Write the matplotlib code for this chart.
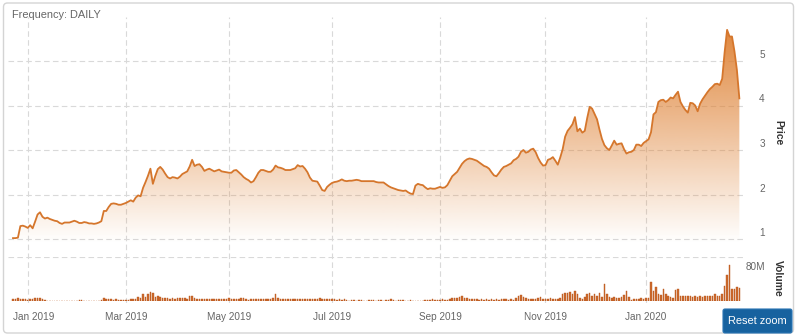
import numpy as np
import pandas as pd
import matplotlib
matplotlib.use("Agg")
import matplotlib.pyplot as plt
import matplotlib.transforms as mtransforms
from matplotlib.patches import FancyBboxPatch

# ---------------- data ----------------
holidays = ["2018-12-25", "2019-01-01", "2019-01-21", "2019-02-18", "2019-04-19",
            "2019-05-27", "2019-07-04", "2019-09-02", "2019-11-28", "2019-12-25",
            "2020-01-01", "2020-01-20", "2020-02-17"]
dates = pd.bdate_range("2018-12-21", "2020-02-27", freq="C", holidays=holidays)

price = [
    1.02, 1.02, 1.03, 1.29, 1.30, 1.28, 1.25, 1.31, 1.24, 1.39,
    1.55, 1.60, 1.50, 1.46, 1.48, 1.45, 1.43, 1.41, 1.40, 1.36,
    1.34, 1.37, 1.37, 1.37, 1.39, 1.41, 1.39, 1.36, 1.36, 1.38,
    1.37, 1.35, 1.35, 1.34, 1.35, 1.37, 1.40, 1.63, 1.63, 1.72,
    1.79, 1.80, 1.79, 1.77, 1.77, 1.79, 1.81, 1.84, 1.87, 1.84,
    1.93, 1.98, 1.96, 2.15, 2.28, 2.42, 2.58, 2.24, 2.42, 2.57,
    2.62, 2.56, 2.47, 2.39, 2.36, 2.39, 2.38, 2.36, 2.40, 2.46,
    2.49, 2.52, 2.63, 2.78, 2.64, 2.67, 2.68, 2.62, 2.53, 2.56,
    2.58, 2.55, 2.52, 2.54, 2.56, 2.52, 2.51, 2.50, 2.49, 2.49,
    2.54, 2.55, 2.50, 2.45, 2.39, 2.35, 2.32, 2.27, 2.30, 2.39,
    2.49, 2.55, 2.55, 2.53, 2.51, 2.51, 2.56, 2.65, 2.61, 2.60,
    2.58, 2.55, 2.55, 2.55, 2.57, 2.59, 2.66, 2.63, 2.64, 2.58,
    2.50, 2.38, 2.31, 2.30, 2.29, 2.20, 2.10, 2.08, 2.17, 2.22,
    2.26, 2.28, 2.29, 2.31, 2.34, 2.31, 2.30, 2.31, 2.31, 2.32,
    2.33, 2.32, 2.30, 2.30, 2.30, 2.30, 2.30, 2.30, 2.28, 2.27,
    2.27, 2.27, 2.23, 2.19, 2.16, 2.14, 2.12, 2.10, 2.09, 2.08,
    2.09, 2.05, 2.02, 2.01, 2.20, 2.24, 2.22, 2.21, 2.16, 2.12,
    2.14, 2.13, 2.13, 2.15, 2.17, 2.15, 2.16, 2.21, 2.31, 2.41,
    2.46, 2.51, 2.60, 2.69, 2.75, 2.79, 2.81, 2.80, 2.78, 2.76,
    2.72, 2.68, 2.64, 2.62, 2.58, 2.50, 2.43, 2.41, 2.48, 2.56,
    2.62, 2.64, 2.67, 2.70, 2.77, 2.80, 2.85, 2.96, 3.00, 2.94,
    2.96, 3.01, 3.03, 2.95, 2.82, 2.72, 2.65, 2.66, 2.78, 2.80,
    2.84, 2.76, 2.67, 2.83, 3.02, 3.30, 3.43, 3.50, 3.58, 3.74,
    3.42, 3.48, 3.39, 3.43, 3.72, 3.97, 3.93, 3.81, 3.69, 3.46,
    3.25, 3.11, 3.04, 3.00, 3.10, 3.21, 3.12, 3.14, 3.15, 3.02,
    2.92, 2.95, 2.96, 3.00, 3.12, 3.12, 3.09, 3.16, 3.20, 3.24,
    3.40, 3.80, 3.85, 4.08, 4.12, 4.13, 4.08, 4.12, 4.18, 4.16,
    4.24, 4.31, 4.08, 3.98, 3.90, 3.84, 4.06, 4.05, 4.00, 3.87,
    4.04, 4.14, 4.22, 4.30, 4.37, 4.42, 4.48, 4.49, 4.46, 4.60,
    5.20, 5.70, 5.55, 5.55, 5.22, 4.80, 4.16,
]

volume_m = [
    3, 4, 5, 3, 4, 3, 2, 3, 4, 5,
    6, 5, 3, 2, 0.5, 0.3, 0.5, 0.3, 0.3, 0.5,
    0.3, 0.3, 0.3, 0.5, 0.3, 0.3, 0.3, 1.5, 1.2, 0.3,
    0.3, 0.5, 0.3, 0.3, 0.3, 0.5, 2, 5, 4, 3,
    3, 2, 3, 2, 1, 1, 1, 2, 3, 4,
    4, 7, 6, 12, 8, 12, 16, 14, 8, 9,
    7, 5, 6, 5, 4, 5, 4, 6, 5, 6,
    5, 4, 9, 10, 6, 4, 4, 3, 3, 4,
    3, 3, 4, 3, 3, 4, 3, 4, 5, 3,
    3, 4, 3, 5, 6, 3, 2, 4, 4, 3,
    4, 3, 4, 3, 3, 4, 6, 12, 5, 3,
    4, 3, 3, 4, 3, 4, 3, 3, 4, 3,
    3, 3, 4, 3, 4, 5, 4, 3, 3, 4,
    3, 3, 2, 3, 2, 3, 1, 0.3, 1.5, 1,
    0.3, 2, 1, 0.3, 0.3, 1, 2, 1, 0.3, 1.5,
    1, 0.3, 1, 2, 3, 1, 0.3, 1, 2, 1,
    0.3, 0.3, 1.5, 0.3, 0.3, 0.5, 0.3, 0.3, 1, 2,
    2, 3, 2, 1, 2, 3, 2, 2, 4, 5,
    6, 5, 7, 9, 6, 5, 4, 3, 4, 3,
    2, 3, 2, 3, 2, 3, 2, 3, 2, 3,
    4, 3, 2, 4, 2, 5, 9, 11, 8, 6,
    4, 3, 4, 3, 5, 8, 4, 3, 4, 5,
    3, 4, 3, 6, 13, 15, 14, 16, 13, 18,
    12, 5, 3, 7, 13, 14, 10, 12, 9, 14,
    8, 31, 12, 8, 6, 7, 5, 5, 7, 11,
    18, 8, 2, 3, 3, 4, 5, 4, 6, 5,
    35, 18, 26, 13, 11, 21, 13, 10, 8, 5,
    20, 22, 10, 9, 9, 10, 9, 8, 10, 8,
    9, 8, 10, 9, 9, 10, 12, 10, 9, 12,
    28, 48, 65, 21, 22, 26, 23,
]

price_ticks = [1, 2, 3, 4, 5]
vol_tick = 80
tick_months = ["2019-01-01", "2019-03-01", "2019-05-01", "2019-07-01",
               "2019-09-01", "2019-11-01", "2020-01-01"]
tick_labels = ["Jan 2019", "Mar 2019", "May 2019", "Jul 2019",
               "Sep 2019", "Nov 2019", "Jan 2020"]

assert len(dates) == len(price) == len(volume_m), (len(dates), len(price), len(volume_m))

# ---------------- layout helpers ----------------
W, H = 800, 336
fig = plt.figure(figsize=(W / 100, H / 100), dpi=100)
fig.patch.set_facecolor("white")
FONT = "Liberation Sans"
plt.rcParams["font.family"] = [FONT, "DejaVu Sans"]


def fx(px):
    return px / W


def fy(py):
    return 1 - py / H


# outer rounded border (pixel coords)
border = FancyBboxPatch((3.5, H - 333), 790, 330, boxstyle="round,pad=0,rounding_size=4",
                        transform=mtransforms.IdentityTransform(), facecolor="white",
                        edgecolor="#d4d4d4", linewidth=1.0, zorder=-5)
fig.patches.append(border)

x = np.arange(len(price))
xl = (-2.04, 298.3)
L, R = 8, 745
tick_idx = [int(dates.searchsorted(pd.Timestamp(m))) for m in tick_months]

grid_kw = dict(color="#d9d9d9", linewidth=0.8, linestyle=(0, (5, 3)))

# background axes for vertical grid lines spanning both panes
ax_bg = fig.add_axes([fx(L), fy(303), fx(R) - fx(L), fy(17) - fy(303)], zorder=1)
ax_bg.set_xlim(*xl)
ax_bg.set_ylim(0, 1)
ax_bg.axis("off")
for t in tick_idx:
    ax_bg.axvline(t, **grid_kw)

# price pane
ybot, ytop = 1 + (239 - 243) / 44.5, 1 + (239 - 17) / 44.5
ax = fig.add_axes([fx(L), fy(243), fx(R) - fx(L), fy(17) - fy(243)], zorder=2)
ax.patch.set_alpha(0)
for s in ax.spines.values():
    s.set_visible(False)
ax.set_xlim(*xl)
ax.set_ylim(ybot, ytop)
ax.set_yticks(price_ticks)
ax.set_xticks([])
ax.tick_params(axis="y", length=0, labelleft=False)
ax.grid(axis="y", **grid_kw)
ax.set_axisbelow(True)

poly = ax.fill_between(x, price, ybot, facecolor="none", edgecolor="none")
n = 256
grad = np.zeros((n, 1, 4))
grad[:, 0, 0] = 222 / 255
grad[:, 0, 1] = 128 / 255
grad[:, 0, 2] = 50 / 255
grad[:, 0, 3] = np.linspace(1.0, 0.0, n)
im = ax.imshow(grad, extent=[xl[0], xl[1], ybot, ytop], aspect="auto", origin="upper",
               zorder=1, interpolation="bilinear")
im.set_clip_path(poly.get_paths()[0], transform=ax.transData)
ax.plot(x, price, color="#d5762c", linewidth=1.3, zorder=3, solid_joinstyle="round")
ax.set_xlim(*xl)
ax.set_ylim(ybot, ytop)

lab_tr = mtransforms.blended_transform_factory(fig.transFigure, ax.transData) + \
    mtransforms.ScaledTranslation(0, 6 / 100, fig.dpi_scale_trans)
for v in price_ticks:
    ax.text(fx(762), v, str(v), transform=lab_tr, ha="center", va="center",
            fontsize=7.2, color="#666666")

# volume pane
axv = fig.add_axes([fx(L), fy(301), fx(R) - fx(L), fy(257) - fy(301)], zorder=2)
axv.patch.set_alpha(0)
for s in axv.spines.values():
    s.set_visible(False)
axv.set_xlim(*xl)
axv.set_ylim(0, vol_tick)
axv.set_yticks([vol_tick])
axv.set_xticks([])
axv.tick_params(axis="y", length=0, labelleft=False)
axv.grid(axis="y", **grid_kw)
axv.bar(x, volume_m, width=0.62, color="#cc6a2c", edgecolor="#b9571f", linewidth=0.3, zorder=3)
axv.set_xlim(*xl)

fig.text(fx(746), fy(267), "80M", ha="left", va="center", fontsize=7.2, color="#666666")

# axis titles
fig.text(fx(778), fy(133), "Price", rotation=-90, ha="center", va="center",
         fontsize=7.4, fontweight="bold", color="#333333")
fig.text(fx(778), fy(278), "Volume", rotation=-90, ha="center", va="center",
         fontsize=7.4, fontweight="bold", color="#333333")

# x tick labels
xt = mtransforms.blended_transform_factory(axv.transData, fig.transFigure)
for i, (t, lab) in enumerate(zip(tick_idx, tick_labels)):
    if i == 0:
        fig.text(fx(13), fy(317), lab, ha="left", va="center", fontsize=7.2, color="#666666")
    else:
        axv.text(t, fy(317), lab, transform=xt, ha="center", va="center",
                 fontsize=7.2, color="#666666", clip_on=False)

# title text
fig.text(fx(12.5), fy(15), "Frequency: DAILY", ha="left", va="center",
         fontsize=7.9, color="#666666")

# reset zoom button
btn = FancyBboxPatch((723, H - 333), 69, 24, boxstyle="round,pad=0,rounding_size=2",
                     transform=mtransforms.IdentityTransform(), facecolor="#17629f",
                     edgecolor="#2a74b3", linewidth=0.8, zorder=5)
fig.patches.append(btn)
fig.text(fx(757.5), fy(321), "Reset zoom", ha="center", va="center", fontsize=7.9,
         color="white", zorder=6)

fig.savefig("out.png", dpi=100, facecolor="white")
